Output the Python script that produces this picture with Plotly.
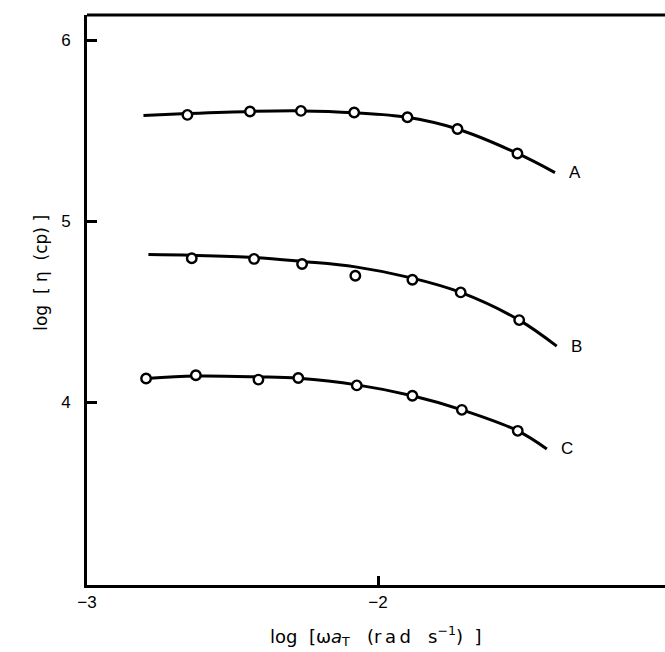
import plotly.graph_objects as go

# ---- data ----
# measured points (open circles)
a_x = [-2.655, -2.440, -2.265, -2.082, -1.899, -1.727, -1.521]
a_y = [5.588, 5.607, 5.610, 5.601, 5.575, 5.510, 5.375]
b_x = [-2.640, -2.426, -2.261, -2.078, -1.882, -1.716, -1.515]
b_y = [4.796, 4.792, 4.764, 4.699, 4.677, 4.607, 4.454]
c_x = [-2.797, -2.626, -2.411, -2.274, -2.073, -1.882, -1.712, -1.520]
c_y = [4.131, 4.149, 4.125, 4.134, 4.093, 4.036, 3.958, 3.842]

# smooth fitted curves
a_fit_x = [-2.806, -2.655, -2.440, -2.265, -2.082, -1.899, -1.727, -1.521, -1.392]
a_fit_y = [5.584, 5.595, 5.607, 5.610, 5.600, 5.575, 5.510, 5.375, 5.269]
b_fit_x = [-2.789, -2.640, -2.426, -2.261, -2.078, -1.882, -1.716, -1.515, -1.386]
b_fit_y = [4.816, 4.812, 4.800, 4.778, 4.748, 4.686, 4.607, 4.454, 4.310]
c_fit_x = [-2.797, -2.626, -2.411, -2.274, -2.073, -1.882, -1.712, -1.520, -1.420]
c_fit_y = [4.131, 4.145, 4.140, 4.132, 4.096, 4.036, 3.958, 3.842, 3.742]

curve_labels = ["A", "B", "C"]

x_ticks = [-3, -2]
x_tick_text = ["\u22123", "\u22122"]
y_ticks = [4, 5, 6]

fig = go.Figure()

for fx, fy in [(a_fit_x, a_fit_y), (b_fit_x, b_fit_y), (c_fit_x, c_fit_y)]:
    fig.add_trace(go.Scatter(x=fx, y=fy, mode="lines",
                             line=dict(color="black", width=3, shape="spline", smoothing=1.0),
                             hoverinfo="skip", showlegend=False))

for px, py in [(a_x, a_y), (b_x, b_y), (c_x, c_y)]:
    fig.add_trace(go.Scatter(x=px, y=py, mode="markers",
                             marker=dict(symbol="circle", size=9.5, color="white",
                                         line=dict(color="black", width=2.4)),
                             showlegend=False))

font_family = "Liberation Sans, Arial, sans-serif"
title_family = "DejaVu Sans, Verdana, sans-serif"
NB = "\u00a0"

for lab, fx, fy in zip(curve_labels, [a_fit_x, b_fit_x, c_fit_x], [a_fit_y, b_fit_y, c_fit_y]):
    fig.add_annotation(x=fx[-1], y=fy[-1], text=lab, showarrow=False,
                       xanchor="left", yanchor="middle", xshift=12,
                       font=dict(family=font_family, size=17, color="black"))

fig.update_layout(
    width=665, height=652,
    margin=dict(l=87, r=0, t=15, b=67),
    paper_bgcolor="white", plot_bgcolor="white",
    font=dict(family=font_family, size=17, color="black"),
    showlegend=False,
)

fig.update_xaxes(
    range=[-3, -1.014], tickvals=x_ticks, ticktext=x_tick_text,
    showgrid=False, zeroline=False,
    showline=True, linecolor="black", linewidth=3, mirror=False,
    ticks="inside", ticklen=9, tickwidth=2.5, tickcolor="black",
    tickfont=dict(family=font_family, size=17),
)
fig.update_yaxes(
    range=[2.99, 6.14], tickvals=y_ticks,
    showgrid=False, zeroline=False,
    showline=True, linecolor="black", linewidth=3, mirror=False,
    ticks="inside", ticklen=10, tickwidth=2.5, tickcolor="black",
    tickfont=dict(family=font_family, size=17), ticklabelstandoff=10,
)

# top frame line (the right side of the frame is cut off in the reference)
fig.add_shape(type="line", xref="paper", yref="paper", x0=0, x1=1, y0=1, y1=1,
              line=dict(color="black", width=3))

# cut-off "-1" tick label at the right edge (as in the reference)
fig.add_annotation(x=-1, xref="x", yref="paper", y=0, yshift=-10,
                   text="\u22121", showarrow=False, xanchor="center", yanchor="top",
                   font=dict(family=font_family, size=17, color="black"))

# axis titles
x_title = ("log" + NB * 2 + "[\u03c9<i>a</i><sub>T</sub>" + NB * 3 + "(r" + "\u2009a\u2009d" + NB * 3
           + "s<sup>\u22121</sup>)" + NB * 2 + "]")
fig.add_annotation(xref="paper", yref="paper", x=(268 - 87) / 578, y=-0.064,
                   text=x_title, showarrow=False, xanchor="left", yanchor="top",
                   font=dict(family=title_family, size=18, color="black"))
y_title = "log" + NB * 2 + "[" + NB + "\u03b7" + NB * 2 + "(cp)" + NB + "]"
fig.add_annotation(xref="paper", yref="paper", x=-0.08, y=(585 - 273) / 570,
                   text=y_title, textangle=-90,
                   showarrow=False, xanchor="center", yanchor="middle",
                   font=dict(family=title_family, size=17, color="black"))

fig.write_html("out.html")
